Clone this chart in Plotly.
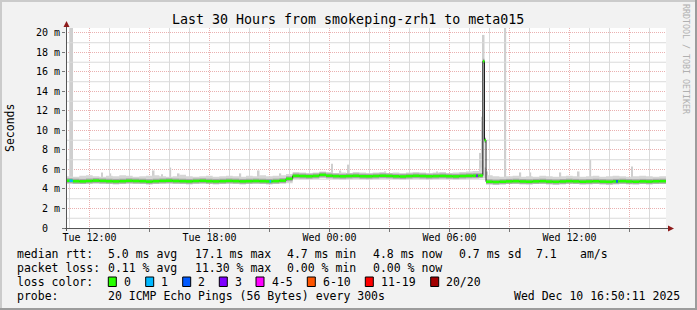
import pandas as pd
import plotly.graph_objects as go

MONO = "DejaVu Sans Mono"

# ---------------- data ----------------
START = "2025-12-09 10:49:30"
END = "2025-12-10 16:49:30"
SLOT = "20min"

# median rtt per 20-minute slot (ms)
median_ms = [4.85, 4.80, 4.78, 4.82, 4.86, 4.83, 4.80, 4.78, 4.80, 4.84, 4.82, 4.80, 4.76, 4.80, 4.83,
             4.85, 4.82, 4.80, 4.78, 4.82, 4.84, 4.80, 4.78, 4.80, 4.83, 4.81, 4.78, 4.80, 4.82, 4.80,
             4.78, 4.81, 4.86, 5.05,
             5.35, 5.33, 5.30, 5.34, 5.45, 5.36, 5.32, 5.30, 5.33, 5.35, 5.31, 5.30, 5.33, 5.36, 5.34,
             5.30, 5.28, 5.32, 5.35, 5.33, 5.30, 5.32, 5.34, 5.31, 5.29, 5.33, 5.35, 5.36, 5.38,
             4.75, 4.72, 4.75, 4.78, 4.80, 4.77, 4.75, 4.78, 4.80, 4.76, 4.74, 4.77, 4.80, 4.78, 4.75,
             4.77, 4.79, 4.76, 4.74, 4.78, 4.80, 4.77, 4.75, 4.78, 4.76, 4.79, 4.80]

# smoke: lowest / highest ping per slot (ms)
smoke_lo_ms = [4.55, 4.50, 4.50, 4.55, 4.55, 4.50, 4.50, 4.45, 4.50, 4.55, 4.50, 4.50, 4.45, 4.50, 4.55,
               4.55, 4.50, 4.50, 4.45, 4.50, 4.55, 4.50, 4.45, 4.50, 4.55, 4.50, 4.45, 4.50, 4.55, 4.50,
               4.45, 4.50, 4.55, 4.60,
               5.05, 5.00, 5.00, 5.05, 5.10, 5.05, 5.00, 4.95, 5.00, 5.05, 5.00, 4.95, 5.00, 5.05, 5.05,
               5.00, 4.95, 5.00, 5.05, 5.00, 4.95, 5.00, 5.05, 5.00, 4.95, 5.00, 5.05, 5.05, 5.10,
               4.45, 4.40, 4.45, 4.50, 4.50, 4.45, 4.45, 4.50, 4.50, 4.45, 4.40, 4.45, 4.50, 4.50, 4.45,
               4.45, 4.50, 4.45, 4.40, 4.45, 4.50, 4.45, 4.45, 4.50, 4.45, 4.50, 4.50]
smoke_hi_ms = [5.30, 5.25, 5.35, 5.40, 5.30, 5.25, 5.35, 5.30, 5.40, 5.35, 5.25, 5.30, 5.35, 5.40, 5.30,
               5.25, 5.30, 5.45, 5.30, 5.25, 5.30, 5.35, 5.25, 5.30, 5.35, 5.30, 5.25, 5.35, 5.30, 5.40,
               5.30, 5.35, 5.40, 5.55,
               5.75, 5.70, 5.65, 5.70, 5.80, 5.75, 5.65, 5.70, 5.65, 5.75, 5.70, 5.65, 5.70, 5.75, 5.65,
               5.70, 5.65, 5.70, 5.75, 5.70, 5.65, 5.70, 5.75, 5.65, 5.70, 5.75, 5.80, 5.85, 6.20,
               5.40, 5.30, 5.25, 5.30, 5.35, 5.25, 5.30, 5.25, 5.35, 5.30, 5.25, 5.30, 5.35, 5.30, 5.25,
               5.30, 5.35, 5.25, 5.30, 5.35, 5.30, 5.25, 5.30, 5.35, 5.30, 5.25, 5.30]

# 5-minute median spike
spike_times = ["2025-12-10 07:40", "2025-12-10 07:45"]
spike_ms = [17.1, 9.0]

# single 5-minute smoke peaks (max ping, ms)
peak_times = ["2025-12-09 11:00", "2025-12-09 11:05", "2025-12-09 12:35", "2025-12-09 13:00",
              "2025-12-09 15:10", "2025-12-09 15:35", "2025-12-09 16:00", "2025-12-09 16:25",
              "2025-12-09 19:30", "2025-12-09 20:25", "2025-12-09 21:30", "2025-12-10 00:05",
              "2025-12-10 00:30", "2025-12-10 00:55", "2025-12-10 02:45", "2025-12-10 05:20",
              "2025-12-10 07:30", "2025-12-10 07:35", "2025-12-10 07:40", "2025-12-10 07:50",
              "2025-12-10 08:45", "2025-12-10 09:30", "2025-12-10 10:00", "2025-12-10 11:30",
              "2025-12-10 12:25", "2025-12-10 13:00", "2025-12-10 15:05"]
peak_ms = [25, 25, 5.7, 5.6,
           5.9, 5.5, 6.2, 5.6,
           5.6, 5.9, 5.6, 6.6,
           5.9, 6.5, 5.8, 5.8,
           7.7, 11.4, 19.8, 5.8,
           25, 5.7, 5.7, 5.7,
           5.8, 7.0, 6.3]

# packet loss events (lost pings out of 20)
loss_times = ["2025-12-09 11:00", "2025-12-09 11:05", "2025-12-09 21:00", "2025-12-10 07:20",
              "2025-12-10 14:20"]
loss_counts = [1, 1, 1, 3, 2]

loss_labels = ["0", "1", "2", "3", "4-5", "6-10", "11-19", "20/20"]
loss_colors = ["#26ff00", "#00b8ff", "#0059ff", "#7e00ff", "#ff00ff", "#ff5500", "#ff0000", "#a10000"]

y_major = [0, 2, 4, 6, 8, 10, 12, 14, 16, 18, 20]
y_minor = [1, 3, 5, 7, 9, 11, 13, 15, 17, 19]

stats_rtt = ["5.0 ms avg", "17.1 ms max", "4.7 ms min", "4.8 ms now", "0.7 ms sd", "7.1", "am/s"]
stats_loss = ["0.11 % avg", "11.30 % max", "0.00 % min", "0.00 % now"]
probe_text = "20 ICMP Echo Pings (56 Bytes) every 300s"
stamp_text = "Wed Dec 10 16:50:11 2025"
title_text = "Last 30 Hours from smokeping-zrh1 to meta015"

# ---------------- build ----------------
start = pd.Timestamp(START)
end = pd.Timestamp(END)
slots = pd.date_range(start, periods=len(median_ms), freq=SLOT)
step = pd.Timedelta(SLOT)
five = pd.Timedelta("5min")
YR = [0, 20.51]
GRID = "#dadada"
MGRID = "#eab0b0"
DASH = "1px,1px"


def slot_of(t):
    return min(int((t - start) / step), len(median_ms) - 1)


pts = sorted(list(zip(slots, median_ms)) + [(pd.Timestamp(t), v) for t, v in zip(spike_times, spike_ms)])
pt_t = [p[0] for p in pts]
pt_v = [p[1] for p in pts]
pt_end = pt_t[1:] + [end]

hours = pd.date_range("2025-12-09 11:00", "2025-12-10 16:00", freq="1h")
x_major = [t for t in hours if t.hour % 3 == 0]
x_minor = [t for t in hours if t.hour % 3 != 0]

fig = go.Figure()

# minor grid (hourly / 1 m), light grey, one trace per line
for t in x_minor:
    fig.add_scatter(x=[t, t], y=[YR[0], YR[1]], mode="lines", line=dict(color=GRID, width=1),
                    hoverinfo="skip")
for v in y_minor:
    fig.add_scatter(x=[start, end], y=[v, v], mode="lines", line=dict(color=GRID, width=1),
                    hoverinfo="skip")

pk_t = [pd.Timestamp(t) for t in peak_times]
fig.add_bar(x=[t + five / 2 for t in pk_t],
            base=[median_ms[slot_of(t)] for t in pk_t],
            y=[v - median_ms[slot_of(t)] for t, v in zip(pk_t, peak_ms)],
            width=five.total_seconds() * 1000, marker=dict(color="#cfcfcf", line=dict(width=0)),
            hoverinfo="skip")

sx = list(slots) + [end]
fig.add_scatter(x=sx, y=smoke_lo_ms + [smoke_lo_ms[-1]], mode="lines", line=dict(width=0, shape="hv"),
                hoverinfo="skip")
fig.add_scatter(x=sx, y=smoke_hi_ms + [smoke_hi_ms[-1]], mode="lines", line=dict(width=0, shape="hv"),
                fill="tonexty", fillcolor="#d6d6d6", hoverinfo="skip")

seg_x, seg_y = [], []
for t0, t1, v in zip(pt_t, pt_end, pt_v):
    seg_x += [t0, t1, None]
    seg_y += [v, v, None]

fig.add_scatter(x=seg_x, y=seg_y, mode="lines", line=dict(color="#a8a8a8", width=5), hoverinfo="skip")
fig.add_scatter(x=pt_t + [end], y=pt_v + [pt_v[-1]], mode="lines",
                line=dict(color="#202020", width=1, shape="hv"), hoverinfo="skip")
fig.add_scatter(x=seg_x, y=seg_y, mode="lines", line=dict(color=loss_colors[0], width=2.6), hoverinfo="skip")


def loss_idx(n):
    if n <= 3:
        return n
    if n <= 5:
        return 4
    if n <= 10:
        return 5
    if n <= 19:
        return 6
    return 7


for t, n in zip(loss_times, loss_counts):
    t = pd.Timestamp(t)
    v = median_ms[slot_of(t)]
    fig.add_scatter(x=[t, t + five], y=[v, v], mode="lines",
                    line=dict(color=loss_colors[loss_idx(n)], width=2.6), hoverinfo="skip")

# ---------------- layout ----------------
PL, PR, PT, PB = 66, 666, 28, 228
W, H = 697, 310


def px(x):
    return (x - PL) / (PR - PL)


def py(y):
    return (PB - y) / (PB - PT)


x_major_text = [t.strftime("%a %H:%M") if t.hour % 6 == 0 else "" for t in x_major]
y_major_text = [("%d m" % v) if v else "0\u00a0\u00a0" for v in y_major]

fig.update_layout(
    width=W, height=H, margin=dict(l=PL, r=W - PR, t=PT, b=H - PB, pad=0),
    paper_bgcolor="#f2f2f2", plot_bgcolor="#ffffff", showlegend=False,
    font=dict(family=MONO, size=10, color="#000000"),
    xaxis=dict(type="date", range=[start, end], tickmode="array", tickvals=x_major, ticktext=x_major_text,
               showgrid=True, gridcolor=MGRID, griddash=DASH, gridwidth=1, zeroline=False, showline=False,
               ticks="outside", ticklen=3, tickcolor="#777777", tickfont=dict(family=MONO, size=10),
               ticklabelstandoff=-3),
    yaxis=dict(range=YR, tickmode="array", tickvals=y_major, ticktext=y_major_text,
               showgrid=True, gridcolor=MGRID, griddash=DASH, gridwidth=1, zeroline=False, showline=False,
               ticks="outside", ticklen=3, tickcolor="#777777", tickfont=dict(family=MONO, size=10)),
)

shapes = []
shapes.append(dict(type="rect", xref="paper", yref="paper", x0=px(0), x1=px(W), y0=py(0), y1=py(2),
                   fillcolor="#cbcbcb", line=dict(width=0), layer="above"))
shapes.append(dict(type="rect", xref="paper", yref="paper", x0=px(0), x1=px(2), y0=py(0), y1=py(H),
                   fillcolor="#cbcbcb", line=dict(width=0), layer="above"))
shapes.append(dict(type="rect", xref="paper", yref="paper", x0=px(0), x1=px(W), y0=py(H - 2), y1=py(H),
                   fillcolor="#9c9c9c", line=dict(width=0), layer="above"))
shapes.append(dict(type="rect", xref="paper", yref="paper", x0=px(W - 2), x1=px(W), y0=py(0), y1=py(H),
                   fillcolor="#9c9c9c", line=dict(width=0), layer="above"))
shapes.append(dict(type="line", xref="paper", yref="paper", x0=px(65), x1=px(670), y0=py(228.5), y1=py(228.5),
                   line=dict(color="#555555", width=1), layer="above"))
shapes.append(dict(type="line", xref="paper", yref="paper", x0=px(66.5), x1=px(66.5), y0=py(231), y1=py(25),
                   line=dict(color="#555555", width=1), layer="above"))
ARROW = "#8e1b1b"
shapes.append(dict(type="path", xref="paper", yref="paper",
                   path="M %f %f L %f %f L %f %f Z" % (px(674), py(228.5), px(668), py(225.5), px(668), py(231.5)),
                   fillcolor=ARROW, line=dict(width=0), layer="above"))
shapes.append(dict(type="path", xref="paper", yref="paper",
                   path="M %f %f L %f %f L %f %f Z" % (px(66.5), py(21), px(63.5), py(27), px(69.5), py(27)),
                   fillcolor=ARROW, line=dict(width=0), layer="above"))

annotations = []


def txt(s, x, y, size=11.5, anchor="left", color="#000000", angle=0):
    annotations.append(dict(text=s, x=px(x), y=py(y), xref="paper", yref="paper", xanchor=anchor,
                            yanchor="middle", showarrow=False, textangle=angle, borderpad=0,
                            font=dict(family=MONO, size=size, color=color)))


txt(title_text, 348, 19, size=13.3, anchor="center")
txt("Seconds", 10, 128, size=11.5, anchor="center", angle=-90)
txt("RRDTOOL / TOBI OETIKER", 686, 59, size=8.3, anchor="center", color="#b0b0b0", angle=90)

R1, R2, R3, R4 = 254.3, 268.3, 281.7, 296.3
txt("median rtt:", 16, R1)
for s, x in zip(stats_rtt, [107.3, 194, 286, 372, 458.3, 535, 579.3]):
    txt(s, x, R1)
txt("packet loss:", 16, R2)
for s, x in zip(stats_loss, [107.3, 194, 286, 372]):
    txt(s, x, R2)
txt("loss color:", 16, R3)
box_x = [108.3, 145.7, 182.7, 219.3, 256, 307.3, 365.3, 430.7]
for lab, col, bx in zip(loss_labels, loss_colors, box_x):
    shapes.append(dict(type="rect", xref="paper", yref="paper", x0=px(bx), x1=px(bx + 8),
                       y0=py(286.5), y1=py(277), fillcolor=col, line=dict(color="#000000", width=1),
                       layer="above"))
    txt(lab, bx + 14.7, R3)
txt("probe:", 16, R4)
txt(probe_text, 107.3, R4)
txt(stamp_text, 513.3, R4)

fig.update_layout(shapes=shapes, annotations=annotations)
fig.write_html("out.html")
